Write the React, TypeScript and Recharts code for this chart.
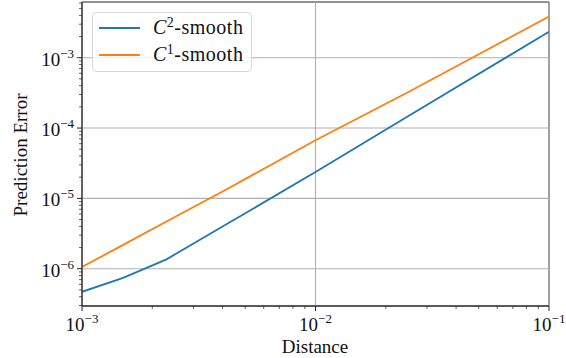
import { Customized, Line, LineChart, ReferenceArea, ReferenceLine, XAxis, YAxis } from "recharts"

const distance = [0.001, 0.0015, 0.0023, 0.004, 0.01, 0.025, 0.1]
const c2Smooth = [4.7e-7, 7.4e-7, 1.36e-6, 3.98e-6, 2.37e-5, 1.48e-4, 2.34e-3]
const c1Smooth = [1.06e-6, 2.18e-6, 4.68e-6, 1.25e-5, 6.7e-5, 3.25e-4, 3.85e-3]

const xMajor = [0.001, 0.01, 0.1]
const yMajor = [1e-6, 1e-5, 1e-4, 1e-3]
const xDomain = [0.001, 0.1]
const yDomain = [2.95e-7, 6.2e-3]

const minors = (lo: number, hi: number) => {
  const out: number[] = []
  for (let e = -8; e <= 0; e++) {
    for (let m = 1; m <= 9; m++) {
      const v = m * Math.pow(10, e)
      if (v >= lo * 0.999 && v <= hi * 1.001) out.push(v)
    }
  }
  return out
}
const xTicks = minors(xDomain[0], xDomain[1])
const yTicks = minors(yDomain[0], yDomain[1])

const data = distance.map((d, i) => ({ distance: d, c2: c2Smooth[i], c1: c1Smooth[i] }))

const FONT = "'Liberation Serif', 'DejaVu Serif', serif"
const BLUE = "#1f77b4"
const ORANGE = "#ff7f0e"

const isMajor = (v: number) => Math.abs(Math.log10(v) - Math.round(Math.log10(v))) < 1e-6

const Pow = ({ x, y, v, anchor }: any) => {
  const e = Math.round(Math.log10(v))
  return (
    <text x={x} y={y} textAnchor={anchor} fontFamily={FONT} fontSize={19} fill="#111">
      10<tspan dy={-8} fontSize={13}>{"\u2212" + Math.abs(e)}</tspan>
    </text>
  )
}

const XTick = ({ x, y, payload }: any) => {
  const major = isMajor(payload.value)
  return (
    <g>
      <line x1={x} x2={x} y1={y} y2={y + (major ? 5 : 3)} stroke="#222" strokeWidth={major ? 1 : 0.7} />
      {major && <Pow x={x} y={y + 25} v={payload.value} anchor="middle" />}
    </g>
  )
}

const YTick = ({ x, y, payload }: any) => {
  const major = isMajor(payload.value)
  return (
    <g>
      <line x1={x - (major ? 5 : 3)} x2={x} y1={y} y2={y} stroke="#222" strokeWidth={major ? 1 : 0.7} />
      {major && <Pow x={x - 8} y={y + 8} v={payload.value} anchor="end" />}
    </g>
  )
}

const legendItems = [
  { color: BLUE, sup: "2" },
  { color: ORANGE, sup: "1" },
]

const LegendBox = () => (
  <div
    style={{
      position: "absolute",
      left: 92,
      top: 12,
      width: 160,
      height: 60,
      border: "1px solid #d6d6d6",
      borderRadius: 4,
      background: "rgba(255,255,255,0.8)",
      boxSizing: "border-box",
      fontFamily: FONT,
      fontSize: 20,
      letterSpacing: 0.5,
      color: "#111",
      padding: "1px 0 0 6px",
    }}
  >
    {legendItems.map((it) => (
      <div key={it.sup} style={{ display: "flex", alignItems: "center", height: 27, whiteSpace: "nowrap" }}>
        <span style={{ display: "inline-block", width: 41, height: 2, background: it.color, marginRight: 13 }} />
        <span>
          <i>C</i>
          <span style={{ fontSize: 14, position: "relative", top: -7 }}>{it.sup}</span>-smooth
        </span>
      </div>
    ))}
  </div>
)

const Labels = () => (
  <g fontFamily={FONT} fontSize={19} fill="#111">
    <text x={315} y={353} textAnchor="middle">Distance</text>
    <text x={27} y={155} textAnchor="middle" transform="rotate(-90 27 155)">Prediction Error</text>
  </g>
)

export default function App() {
  return (
    <div style={{ position: "absolute", left: 0, top: 0, width: 566, height: 358, background: "#fff" }}>
      <LineChart width={566} height={358} data={data} margin={{ top: 2, right: 17, left: 10, bottom: 10 }}>
        {xMajor.map((v) => (
          <ReferenceLine key={"x" + v} x={v} stroke="#b0b0b0" strokeWidth={1.1} />
        ))}
        {yMajor.map((v) => (
          <ReferenceLine key={"y" + v} y={v} stroke="#b0b0b0" strokeWidth={1.1} />
        ))}
        <XAxis
          dataKey="distance"
          type="number"
          scale="log"
          domain={xDomain}
          allowDataOverflow
          ticks={xTicks}
          interval={0}
          height={42}
          tickSize={0}
          tickMargin={0}
          tick={<XTick />}
          axisLine={{ stroke: "#222" }}
        />
        <YAxis
          type="number"
          scale="log"
          domain={yDomain}
          allowDataOverflow
          ticks={yTicks}
          interval={0}
          width={72}
          tickSize={0}
          tickMargin={0}
          tick={<YTick />}
          axisLine={{ stroke: "#222" }}
        />
        <Line dataKey="c2" stroke={BLUE} strokeWidth={1.8} dot={false} isAnimationActive={false} />
        <Line dataKey="c1" stroke={ORANGE} strokeWidth={1.8} dot={false} isAnimationActive={false} />
        <ReferenceArea x1={xDomain[0]} x2={xDomain[1]} y1={yDomain[0]} y2={yDomain[1]} fill="none" stroke="#222" strokeWidth={1} fillOpacity={0} />
        <Customized component={Labels} />
      </LineChart>
      <LegendBox />
    </div>
  )
}
